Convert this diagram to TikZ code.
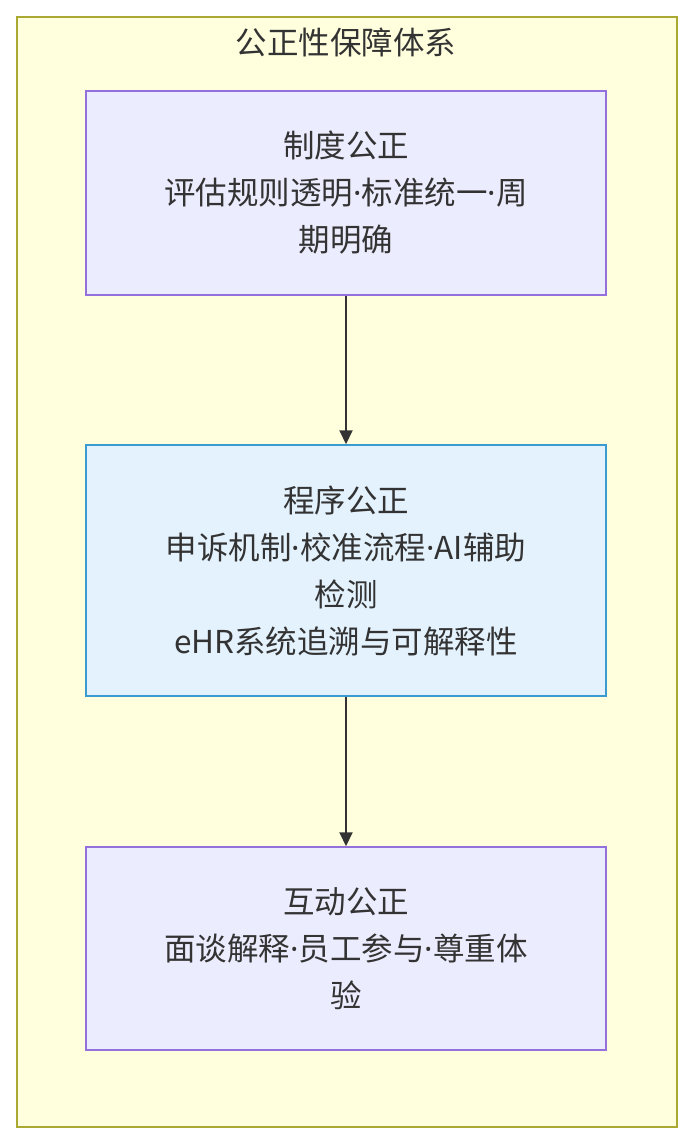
\documentclass[tikz,border=0pt]{standalone}
\usepackage{fontspec}
\setmainfont{Noto Sans CJK SC}
\newfontfamily\latinfont{Noto Sans}
\newcommand{\mydot}{{\latinfont ·}}
\usetikzlibrary{arrows.meta}
\definecolor{txt}{HTML}{333333}
\definecolor{clfill}{HTML}{FFFFDE}
\definecolor{clstroke}{HTML}{AAAA33}
\definecolor{nfill}{HTML}{ECECFF}
\definecolor{nstroke}{HTML}{9370DB}
\definecolor{bfill}{HTML}{E3F2FD}
\definecolor{bstroke}{HTML}{3A9BD1}
\tikzset{
  nodebox/.style={draw=nstroke, fill=nfill, line width=1.5pt, minimum width=520pt, align=center, text=txt, font=\fontsize{31.5}{47}\selectfont, inner sep=0pt},
  bluebox/.style={nodebox, draw=bstroke, fill=bfill},
  link/.style={draw=txt, line width=2pt, -{Triangle[length=14pt,width=13pt]}}
}
\begin{document}
\begin{tikzpicture}[x=1pt,y=-1pt]
\useasboundingbox (0,0) rectangle (692,1142);
\node[draw=clstroke, fill=clfill, line width=2pt, minimum width=660pt, minimum height=1110pt, anchor=north west, inner sep=0pt] (cluster) at (16,16) {};
\node[text=txt, font=\fontsize{31.5}{38}\selectfont] (title) at (346,42) {公正性保障体系};
\node[nodebox, minimum height=204pt] (a) at (346,193) {制度公正\\评估规则透明\mydot 标准统一\mydot 周\\期明确};
\node[bluebox, minimum height=251pt] (b) at (346,570.5) {程序公正\\申诉机制\mydot 校准流程\mydot AI辅助\\检测\\eHR系统追溯与可解释性};
\node[nodebox, minimum height=203pt] (c) at (346,948.5) {互动公正\\面谈解释\mydot 员工参与\mydot 尊重体\\验};
\draw[link] (a) -- (b);
\draw[link] (b) -- (c);
\end{tikzpicture}
\end{document}
